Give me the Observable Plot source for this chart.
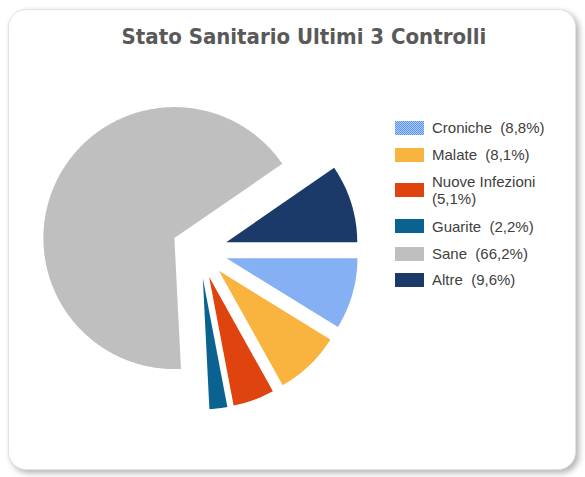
<!DOCTYPE html>
<html>
<head>
<meta charset="utf-8">
<script src="https://cdn.jsdelivr.net/npm/d3@7"></script>
<script src="https://cdn.jsdelivr.net/npm/@observablehq/plot@0.6"></script>
<style>
  html, body { margin: 0; padding: 0; background: #ffffff; }
  #page { position: relative; width: 585px; height: 477px; overflow: hidden; background: #fff; }
  #card { position: absolute; left: 8px; top: 9px; width: 566px; height: 459px;
          border: 1px solid #e2e2e2; border-radius: 18px; background: #fff;
          box-shadow: 3px 3px 6px rgba(0,0,0,0.3); }
  #title { position: absolute; left: 0; top: 24px; width: 608px; text-align: center;
           font-family: "DejaVu Sans Condensed", "DejaVu Sans", sans-serif; font-stretch: condensed;
           font-weight: bold; font-size: 22px; line-height: 26px; color: #595959; white-space: nowrap; }
  #chart { position: absolute; }
  #legend { position: absolute; left: 395px; top: 114px; width: 150px;
            font-family: "Liberation Sans", Arial, sans-serif; font-size: 15px; color: #404040; }
  .item { position: absolute; left: 0; display: flex; align-items: center; }
  .sw { width: 29px; height: 14px; flex: none; margin-right: 8px; }
  .lab { white-space: pre-wrap; line-height: 17px; width: 115px; }
</style>
</head>
<body>
<svg width="0" height="0" style="position:absolute">
  <defs>
    <pattern id="hatch" width="2" height="2" patternUnits="userSpaceOnUse">
      <rect width="2" height="2" fill="#b0cdf8"></rect>
      <rect x="0" y="0" width="1" height="1" fill="#5a93ed"></rect>
      <rect x="1" y="1" width="1" height="1" fill="#5a93ed"></rect>
    </pattern>
  </defs>
</svg>
<div id="page">
  <div id="card"></div>
  <div id="title">Stato Sanitario Ultimi 3 Controlli</div>
  <div id="chart"></div>
  <div id="legend"></div>
</div>
<script>
// ---- data ----
const categories = ["Croniche", "Malate", "Nuove Infezioni", "Guarite", "Sane", "Altre"];
const percentages = [8.8, 8.1, 5.1, 2.2, 66.2, 9.6];
const colors = ["url(#hatch)", "#f9b33f", "#e0440e", "#0b6291", "#bfbfbf", "#1b3a6a"];
const legendCenters = [127.5, 154.5, 190, 226, 253.5, 279.5]; // legend row centers (page px)

// ---- layout ----
const cx = 199, cy = 250, R = 131, explode = 28 / 131;
const svgLeft = 20, svgTop = 70, W = 360, H = 395;

const data = categories.map((name, i) => ({name, value: percentages[i]}));
const pie = d3.pie().sort(null).value(d => d.value)
  .startAngle(Math.PI / 2).endAngle(Math.PI / 2 + 2 * Math.PI);
const arcs = pie(data);

// polygon outline of each (exploded) slice, in radius units
const outline = arcs.flatMap(a => {
  const name = a.data.name;
  const mid = (a.startAngle + a.endAngle) / 2;
  const ox = Math.sin(mid) * explode, oy = Math.cos(mid) * explode;
  const n = Math.max(2, Math.ceil((a.endAngle - a.startAngle) / (Math.PI / 360)));
  const pts = [{name, x: ox, y: oy}];
  for (let i = 0; i <= n; ++i) {
    const t = a.startAngle + (a.endAngle - a.startAngle) * i / n;
    pts.push({name, x: ox + Math.sin(t), y: oy + Math.cos(t)});
  }
  pts.push({name, x: ox, y: oy});
  return pts;
});

const chart = Plot.plot({
  width: W, height: H,
  margin: 0,
  x: {domain: [(svgLeft - cx) / R, (svgLeft + W - cx) / R], axis: null},
  y: {domain: [-(svgTop + H - cy) / R, (cy - svgTop) / R], axis: null},
  color: {domain: categories, range: colors},
  marks: [
    Plot.line(outline, {x: "x", y: "y", z: "name", fill: "name", stroke: "none"})
  ]
});
const holder = document.getElementById("chart");
holder.style.left = svgLeft + "px";
holder.style.top = svgTop + "px";
holder.appendChild(chart);

// ---- legend ----
const fmt = v => "(" + v.toFixed(1).replace(".", ",") + "%)";
const legend = document.getElementById("legend");
const legendTop = 114;
data.forEach((d, i) => {
  const item = document.createElement("div");
  item.className = "item";
  const sw = document.createElement("div");
  sw.className = "sw";
  if (colors[i].startsWith("url")) {
    sw.innerHTML = '<svg width="29" height="14"><rect width="29" height="14" fill="' + colors[i] + '"></rect></svg>';
  } else {
    sw.style.background = colors[i];
  }
  const lab = document.createElement("div");
  lab.className = "lab";
  lab.textContent = d.name + "  " + fmt(d.value);
  item.appendChild(sw);
  item.appendChild(lab);
  legend.appendChild(item);
  const h = item.getBoundingClientRect().height;
  item.style.top = (legendCenters[i] - legendTop - h / 2) + "px";
});
</script>
</body>
</html>
